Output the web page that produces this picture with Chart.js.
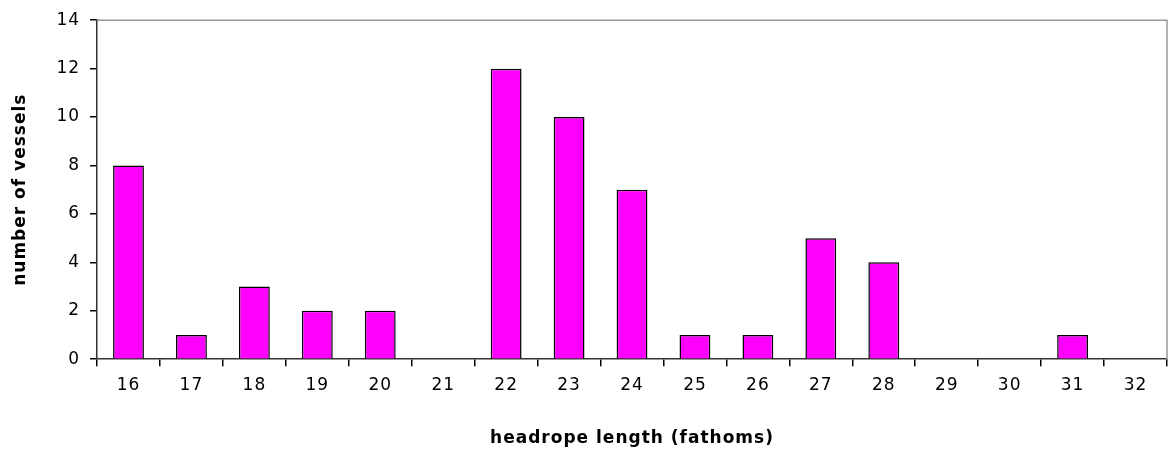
<!DOCTYPE html>
<html>
<head>
<meta charset="utf-8">
<script src="https://cdn.jsdelivr.net/npm/chart.js@4/dist/chart.umd.min.js"></script>
<style>
  html, body { margin: 0; padding: 0; background: #fff; }
  #wrap { width: 1168px; height: 454px; }
</style>
</head>
<body>
<div id="wrap"><canvas id="myChart"></canvas></div>
<script>
const lengths = ["16", "17", "18", "19", "20", "21", "22", "23", "24", "25", "26", "27", "28", "29", "30", "31", "32"];
const vessels = [8, 1, 3, 2, 2, 0, 12, 10, 7, 1, 1, 5, 4, 0, 0, 1, 0];

// gray frame on top and right of the plot area, and a bit of letter spacing for the text
const frame = {
  id: "frame",
  beforeInit(chart) {
    chart.ctx.letterSpacing = "1px";
  },
  beforeDraw(chart) {
    chart.ctx.letterSpacing = "1px";
  },
  afterDraw(chart) {
    const a = chart.chartArea;
    const c = chart.ctx;
    c.save();
    c.strokeStyle = "#999";
    c.lineWidth = 1.5;
    c.beginPath();
    c.moveTo(a.left, a.top);
    c.lineTo(a.right, a.top);
    c.lineTo(a.right, a.bottom);
    c.stroke();
    c.restore();
  }
};

const ctx = document.getElementById("myChart").getContext("2d");
new Chart(ctx, {
  type: "bar",
  data: {
    labels: lengths,
    datasets: [{
      data: vessels,
      backgroundColor: "#ff00ff",
      borderColor: "#000",
      borderWidth: 1.5,
      barPercentage: 0.49,
      categoryPercentage: 1
    }]
  },
  options: {
    responsive: true,
    maintainAspectRatio: false,
    animation: false,
    layout: { padding: { left: 6, right: 1, top: 12, bottom: 1 } },
    plugins: { legend: { display: false }, tooltip: { enabled: false } },
    scales: {
      x: {
        grid: { drawOnChartArea: false, offset: true, tickLength: 7, color: "#000", lineWidth: 1.5 },
        border: { color: "#333", width: 1.5 },
        ticks: { color: "#000", font: { family: "DejaVu Sans", size: 17 }, padding: 9, maxRotation: 0 },
        title: { display: true, text: "headrope length (fathoms)", color: "#000", font: { family: "DejaVu Sans", size: 17, weight: "bold" }, padding: { top: 24 } }
      },
      y: {
        min: 0,
        max: 14,
        ticks: { stepSize: 2, color: "#000", font: { family: "DejaVu Sans", size: 17 }, padding: 10 },
        grid: { drawOnChartArea: false, tickLength: 7, color: "#000", lineWidth: 1.5 },
        border: { color: "#333", width: 1.5 },
        title: { display: true, text: "number of vessels", color: "#000", font: { family: "DejaVu Sans", size: 17, weight: "bold" }, padding: { bottom: 18 } }
      }
    }
  },
  plugins: [frame]
});
</script>
</body>
</html>
